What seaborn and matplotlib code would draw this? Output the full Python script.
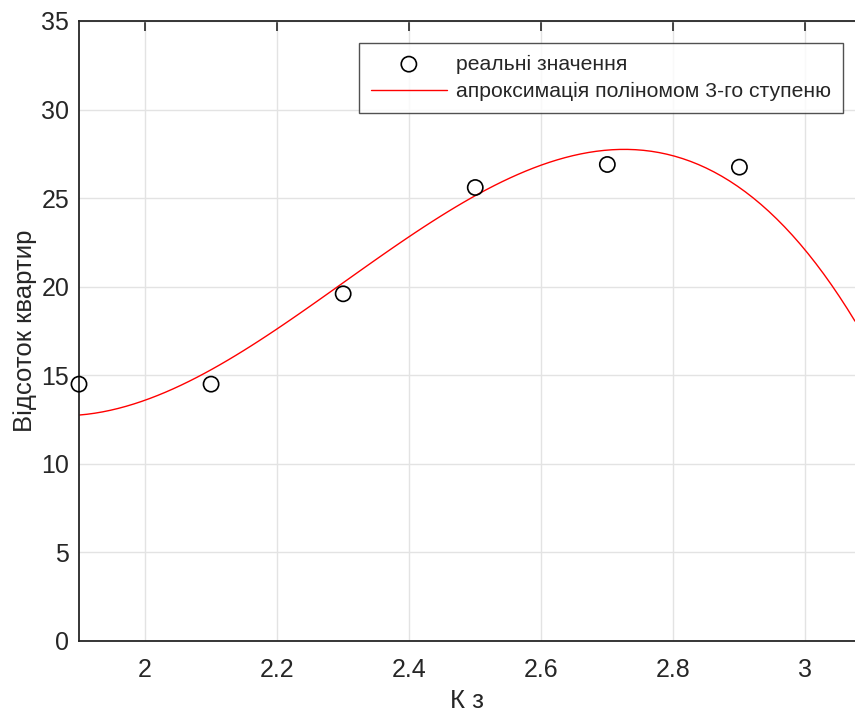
import matplotlib
matplotlib.use("Agg")
import matplotlib.pyplot as plt
import seaborn as sns
import pandas as pd

k_z = [1.9, 2.1, 2.3, 2.5, 2.7, 2.9]
share = [14.5, 14.5, 19.6, 25.6, 26.9, 26.75]

# samples (it is refit with order=3)
fit_x = [1.9, 2.0, 2.1, 2.2, 2.3, 2.4, 2.5, 2.6, 2.7, 2.8, 2.9, 3.0, 3.074]
fit_y = [12.7, 13.65, 15.3, 17.7, 20.2, 22.8, 25.2, 26.8, 27.55, 27.4, 25.75, 22.2, 17.95]

x_ticks = [2, 2.2, 2.4, 2.6, 2.8, 3]
x_tick_labels = ['2', '2.2', '2.4', '2.6', '2.8', '3']
y_ticks = [0, 5, 10, 15, 20, 25, 30, 35]

df = pd.DataFrame({'kz': k_z, 'share': share})
fit = pd.DataFrame({'kz': fit_x, 'share': fit_y})

sns.set_style('white')
plt.rcParams['font.family'] = ['Liberation Sans', 'DejaVu Sans']
ink = '#262626'

fig = plt.figure(figsize=(8.55, 7.13), dpi=100)
ax = fig.add_axes([79 / 855, 72 / 713, 776 / 855, 620 / 713])
ax.set_xlim(1.9, 3.075)
ax.set_ylim(0, 35)

sns.regplot(data=fit, x='kz', y='share', order=3, ci=None, scatter=False,
            truncate=False, color='red', line_kws={'lw': 1.0}, ax=ax,
            label='апроксимація поліномом 3-го ступеню')
sns.scatterplot(data=df, x='kz', y='share', marker='o', s=120,
                facecolor='none', edgecolor='black', linewidth=1.2,
                ax=ax, label='реальні значення', zorder=5, clip_on=False)

ax.set_xlim(1.9, 3.075)
ax.set_ylim(0, 35)
ax.set_xticks(x_ticks)
ax.set_xticklabels(x_tick_labels)
ax.set_yticks(y_ticks)
ax.grid(True, color='#e3e3e3', lw=1.0)
ax.tick_params(direction='in', length=7, width=1.2, colors=ink,
               labelsize=18, top=True, right=False)
ax.tick_params(axis='x', pad=12)
ax.tick_params(axis='y', pad=7)
for side in ['left', 'top', 'bottom']:
    ax.spines[side].set_color(ink)
    ax.spines[side].set_linewidth(1.3)
ax.spines['right'].set_visible(False)

ax.set_xlabel('К з', fontsize=18.5, color=ink, labelpad=5)
ax.set_ylabel('Відсоток квартир', fontsize=18.5, color=ink, labelpad=3)

h, l = ax.get_legend_handles_labels()
order = [l.index('реальні значення'), l.index('апроксимація поліномом 3-го ступеню')]
leg = ax.legend([h[i] for i in order], [l[i] for i in order],
                loc='upper right', bbox_to_anchor=(0.9845, 0.9645),
                borderaxespad=0, fontsize=15.2, frameon=True, fancybox=False,
                edgecolor=ink, handlelength=3.6, borderpad=0.55,
                labelspacing=0.4, handletextpad=0.45)
leg.get_frame().set_linewidth(1.0)

fig.savefig('out.png', dpi=100)
